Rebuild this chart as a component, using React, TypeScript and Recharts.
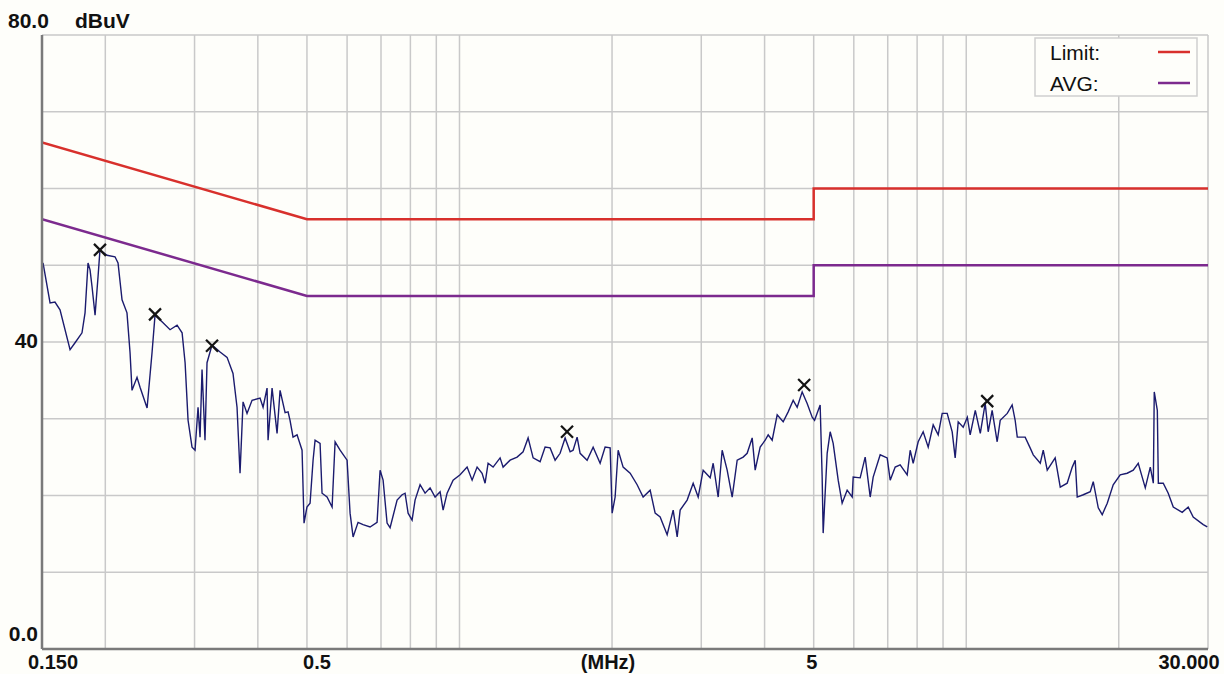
import React from 'react'
import {
  ComposedChart, Line, Scatter, XAxis, YAxis, CartesianGrid,
} from 'recharts'

// level trace (MHz, dBuV), split by band
const traceLow: [number, number][] = [
  [0.1507, 50.3], [0.1556, 45.1], [0.1591, 45.2], [0.1628, 44.2], [0.1704, 39.0],
  [0.1743, 39.9], [0.1799, 41.2], [0.1824, 43.8], [0.1849, 50.3], [0.1866, 49.4],
  [0.1883, 47.2], [0.1909, 43.5], [0.1935, 48.5], [0.1952, 52.0], [0.2015, 51.3],
  [0.2090, 51.1], [0.2119, 50.3], [0.2158, 45.5], [0.2207, 43.8], [0.2238, 38.6],
  [0.2258, 33.7], [0.2310, 35.4], [0.2342, 34.1], [0.2418, 31.4], [0.2473, 38.6],
  [0.2507, 43.5], [0.2600, 42.5], [0.2684, 41.6], [0.2771, 42.2], [0.2835, 41.2],
  [0.2874, 37.3], [0.2913, 29.8], [0.2966, 26.3], [0.3007, 25.9], [0.3048, 31.5],
  [0.3076, 27.6], [0.3104, 36.4], [0.3118, 33.4], [0.3146, 27.2], [0.3175, 37.3],
  [0.3248, 39.6], [0.3369, 38.7], [0.3478, 38.0], [0.3573, 35.9], [0.3639, 31.5],
  [0.3689, 22.9], [0.3740, 32.2], [0.3808, 30.7], [0.3896, 32.4], [0.4040, 32.7],
  [0.4096, 31.5], [0.4171, 34.0], [0.4190, 27.2], [0.4267, 34.0], [0.4365, 28.1],
  [0.4425, 33.7], [0.4527, 30.8], [0.4589, 30.9], [0.4630, 29.8], [0.4694, 27.6],
  [0.4780, 27.9], [0.4890, 25.9], [0.4934, 16.4],
]

const traceMid: [number, number][] = [
  [0.5000, 18.5], [0.5071, 19.0], [0.5141, 24.6], [0.5188, 27.2], [0.5307, 26.8],
  [0.5355, 20.3], [0.5478, 19.8], [0.5605, 18.5], [0.5682, 27.0], [0.5812, 25.9],
  [0.6000, 24.6], [0.6082, 17.7], [0.6166, 14.6], [0.6307, 16.5], [0.6452, 16.2],
  [0.6661, 15.9], [0.6876, 16.5], [0.6971, 23.3], [0.7067, 22.0], [0.7196, 16.4],
  [0.7295, 15.8], [0.7531, 19.4], [0.7704, 20.1], [0.7809, 20.3], [0.7917, 17.7],
  [0.8062, 16.8], [0.8172, 19.4], [0.8360, 21.4], [0.8552, 20.3], [0.8749, 21.0],
  [0.8950, 19.8], [0.9156, 20.5], [0.9282, 18.1], [0.9452, 20.3], [0.9714, 22.0],
  [1.0027, 22.7], [1.0351, 23.7], [1.0590, 22.0], [1.0833, 23.7], [1.1081, 22.9],
  [1.1233, 21.6], [1.1388, 24.2], [1.1650, 23.7], [1.2026, 24.9], [1.2191, 23.7],
  [1.2586, 24.6], [1.2993, 25.0], [1.3351, 25.7], [1.3658, 27.5], [1.3973, 24.9],
  [1.4424, 24.4], [1.4755, 26.3], [1.5095, 26.2], [1.5442, 24.6], [1.5796, 25.5],
  [1.6159, 27.5], [1.6531, 25.7], [1.6758, 25.9], [1.7065, 27.6], [1.7299, 25.5],
  [1.7858, 24.6], [1.8354, 26.3], [1.8946, 24.2], [1.9381, 26.3], [1.9828, 26.2],
  [2.0009, 17.7], [2.0283, 19.8], [2.0563, 25.9], [2.1034, 23.7], [2.1715, 22.9],
  [2.2416, 21.4], [2.3036, 19.8], [2.3782, 20.7], [2.4328, 17.7], [2.4887, 17.2],
  [2.5691, 14.9], [2.6404, 18.1], [2.6888, 14.6], [2.7255, 18.1], [2.8135, 19.4],
  [2.8916, 21.6], [2.9581, 19.8], [3.0259, 23.3], [3.1238, 22.3], [3.1667, 24.2],
  [3.2396, 19.8], [3.2988, 25.9], [3.3746, 23.3], [3.4523, 19.8], [3.5317, 24.6],
  [3.6291, 25.0], [3.6955, 25.5], [3.7808, 27.5], [3.8326, 23.3], [3.9206, 26.3],
  [4.0106, 27.2], [4.0660, 27.9], [4.1406, 27.2], [4.2357, 30.5], [4.3526, 29.6],
  [4.4528, 30.9], [4.5551, 32.4], [4.6386, 31.5], [4.7450, 33.5], [4.8540, 32.0],
  [4.9658, 30.2],
]

const traceHigh: [number, number][] = [
  [5.020, 29.8], [5.149, 31.8], [5.196, 22.4], [5.220, 15.1], [5.316, 25.5],
  [5.389, 28.3], [5.463, 26.8], [5.589, 22.0], [5.690, 19.0], [5.821, 20.7],
  [5.956, 19.8], [5.983, 22.4], [6.176, 22.3], [6.318, 25.0], [6.464, 19.8],
  [6.552, 22.4], [6.764, 25.3], [6.982, 24.9], [7.079, 22.0], [7.241, 23.7],
  [7.407, 24.0], [7.647, 22.7], [7.752, 25.9], [7.858, 24.2], [8.039, 27.0],
  [8.223, 28.3], [8.413, 26.3], [8.606, 29.2], [8.804, 27.9], [8.965, 30.7],
  [9.171, 30.7], [9.382, 28.3], [9.510, 24.9], [9.642, 29.6], [9.863, 28.9],
  [10.05, 30.2], [10.18, 27.9], [10.42, 31.1], [10.66, 28.1], [10.90, 32.0],
  [11.05, 28.3], [11.25, 31.1], [11.51, 27.0], [11.67, 29.8], [12.05, 30.7],
  [12.32, 31.8], [12.49, 29.8], [12.61, 27.6], [13.07, 27.6], [13.37, 26.2],
  [13.56, 25.3], [14.00, 24.2], [14.19, 25.9], [14.45, 23.3], [14.98, 24.9],
  [15.33, 21.1], [15.82, 21.6], [16.19, 23.7], [16.41, 24.6], [16.56, 19.8],
  [17.02, 20.1], [17.57, 20.5], [17.81, 21.8], [18.22, 18.4], [18.55, 17.5],
  [18.98, 19.0], [19.50, 21.4], [20.13, 22.7], [20.78, 22.9], [21.36, 23.3],
  [21.85, 24.2], [22.56, 21.0], [23.08, 23.7], [23.40, 21.6], [23.50, 33.5],
  [23.83, 31.1], [23.94, 21.6], [24.48, 21.6], [25.04, 20.3], [25.62, 18.5],
  [26.68, 17.8], [27.42, 18.5], [28.05, 17.2], [29.36, 16.2], [29.90, 15.9],
]

// marked peaks
const peaks: [number, number][] = [
  [0.1952, 52.0], [0.2507, 43.6], [0.3248, 39.5], [1.630, 28.3], [4.788, 34.4], [11.00, 32.3],
]

// limit lines (QP and AVG)
const limitQP: [number, number][] = [[0.15, 66], [0.5, 56], [5, 56], [5, 60], [30, 60]]
const limitAVG: [number, number][] = [[0.15, 56], [0.5, 46], [5, 46], [5, 50], [30, 50]]

const gridFreqs = [
  0.15, 0.2, 0.3, 0.4, 0.5, 0.6, 0.7, 0.8, 0.9, 1,
  2, 3, 4, 5, 6, 7, 8, 9, 10, 20, 30,
]
const levelTicks = [0, 10, 20, 30, 40, 50, 60, 70, 80]

const xLabels: Record<string, string> = {
  '0.15': '0.150', '0.5': '0.5', '2': '(MHz)', '5': '5', '30': '30.000',
}

const legendItems = [
  { name: 'Limit:', color: '#d8302c' },
  { name: 'AVG:', color: '#7c2a8e' },
]

const toPts = (arr: [number, number][]) => arr.map(([f, v]) => ({ f, v }))

const BG = '#fefefa'
const FRAME = '#7a7a7a'
const FONT = '"Liberation Sans", Arial, sans-serif'

const XTick = ({ x, y, payload }: any) => {
  const label = xLabels[String(payload.value)]
  if (!label) return null
  const dx: Record<string, number> = { '0.150': 11, '0.5': 10, '(MHz)': -4, '5': -2, '30.000': -19 }
  return (
    <text x={x + dx[label]} y={y + 20} textAnchor="middle" fontFamily={FONT}
      fontWeight="bold" fontSize={20} fill="#111">
      {label}
    </text>
  )
}

const YTick = ({ x, y, payload }: any) => {
  const v = payload.value
  const common = { fontFamily: FONT, fontWeight: 'bold', fontSize: 21, fill: '#111' }
  if (v === 80) {
    return (
      <g>
        <text x={x - 34} y={y - 7} {...common}>80.0</text>
        <text x={x + 33} y={y - 7} {...common}>dBuV</text>
      </g>
    )
  }
  if (v === 40) return <text x={x - 4} y={y + 6} textAnchor="end" {...common}>40</text>
  if (v === 0) return <text x={x - 4} y={y - 8} textAnchor="end" {...common}>0.0</text>
  return null
}

const Cross = ({ cx, cy }: any) => (
  <g stroke="#141414" strokeWidth={2.2}>
    <line x1={cx - 6} y1={cy - 6} x2={cx + 6} y2={cy + 6} />
    <line x1={cx - 6} y1={cy + 6} x2={cx + 6} y2={cy - 6} />
  </g>
)

export default function App() {
  const trace = toPts([...traceLow, ...traceMid, ...traceHigh])
  const frameLine = { stroke: FRAME, strokeWidth: 2.5 }
  return (
    <div style={{ position: 'absolute', left: 0, top: 0, width: 1224, height: 674, background: BG }}>
      <ComposedChart width={1224} height={674} margin={{ top: 35, right: 16, bottom: 0, left: 0 }}>
        <CartesianGrid stroke="#c9c9c9" strokeWidth={1.5} />
        <XAxis
          type="number" dataKey="f" scale="log" domain={[0.15, 30]} allowDataOverflow
          ticks={gridFreqs} interval={0} height={25} tickSize={0} tickMargin={0}
          axisLine={frameLine} tick={<XTick />}
        />
        <XAxis
          xAxisId="top" orientation="top" type="number" dataKey="f" scale="log"
          domain={[0.15, 30]} allowDataOverflow height={0} tick={false} tickLine={false}
          axisLine={frameLine}
        />
        <YAxis
          type="number" dataKey="v" domain={[0, 80]} ticks={levelTicks} interval={0}
          width={42} tickSize={0} tickMargin={0} axisLine={frameLine} tick={<YTick />}
        />
        <YAxis
          yAxisId="right" orientation="right" type="number" domain={[0, 80]} width={0}
          tick={false} tickLine={false} axisLine={frameLine}
        />
        <Line data={toPts(limitQP)} dataKey="v" stroke="#d8302c" strokeWidth={2.5}
          dot={false} type="linear" isAnimationActive={false} />
        <Line data={toPts(limitAVG)} dataKey="v" stroke="#7c2a8e" strokeWidth={2.5}
          dot={false} type="linear" isAnimationActive={false} />
        <Line data={trace} dataKey="v" stroke="#1b1b6e" strokeWidth={1.4}
          dot={false} type="linear" isAnimationActive={false} />
        <Scatter data={toPts(peaks)} dataKey="v" shape={<Cross />} isAnimationActive={false} />
      </ComposedChart>
      <svg width={164} height={60} style={{ position: 'absolute', left: 1034, top: 37 }}>
        <rect x={1} y={1} width={162} height={58} fill={BG} stroke="#cfcfcf" strokeWidth={1.5} />
        {legendItems.map((it, i) => (
          <g key={it.name}>
            <text x={16} y={23 + i * 31} fontFamily={FONT} fontSize={21} fill="#111">{it.name}</text>
            <line x1={124} x2={156} y1={15 + i * 31} y2={15 + i * 31} stroke={it.color} strokeWidth={2.5} />
          </g>
        ))}
      </svg>
    </div>
  )
}
